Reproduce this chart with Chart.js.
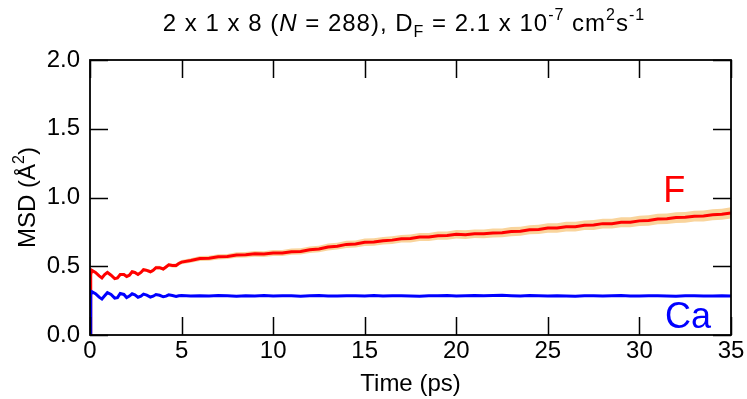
<!DOCTYPE html>
<html>
<head>
<meta charset="utf-8">
<script src="https://cdn.jsdelivr.net/npm/chart.js@4"></script>
<style>
  body { margin: 0; background: #fff; }
  #wrap { width: 747px; height: 399px; position: relative; }
</style>
</head>
<body>
<div id="wrap"><canvas id="msd-chart"></canvas></div>
<script>
/*
  MSD vs time, 2 x 1 x 8 cell (N = 288)
  F ions (red, with error band) and Ca ions (blue)
*/

const FONT = "'Liberation Sans', Arial, Helvetica, sans-serif";

// sample times (ps)
const times = [
  0, 0.04, 0.1, 0.3, 0.5, 0.65, 0.8, 0.95, 1.15, 1.35, 1.5, 1.65, 1.85, 2.0, 2.15, 2.3,
  2.45, 2.62, 2.78, 2.92, 3.1, 3.3, 3.45, 3.6, 3.8, 4.0, 4.15, 4.3, 4.5, 4.7, 4.85, 5.0,
  5.5, 6.0, 6.5, 7.0, 7.5, 8.0, 8.5, 9.0, 9.5, 10.0, 10.5, 11.0, 11.5, 12.0, 12.5, 13.0,
  13.5, 14.0, 14.5, 15.0, 15.5, 16.0, 16.5, 17.0, 17.5, 18.0, 18.5, 19.0, 19.5, 20.0,
  20.5, 21.0, 21.5, 22.0, 22.5, 23.0, 23.5, 24.0, 24.5, 25.0, 25.5, 26.0, 26.5, 27.0,
  27.5, 28.0, 28.5, 29.0, 29.5, 30.0, 30.5, 31.0, 31.5, 32.0, 32.5, 33.0, 33.5, 34.0,
  34.5, 35.0
];

// MSD of F (Å^2)
const msdF = [
  0, 0.44, 0.47, 0.455, 0.43, 0.415, 0.44, 0.455, 0.435, 0.41, 0.415, 0.44, 0.44, 0.425, 0.435, 0.46,
  0.455, 0.44, 0.455, 0.475, 0.47, 0.46, 0.47, 0.49, 0.49, 0.48, 0.495, 0.51, 0.505, 0.505, 0.52, 0.53,
  0.542, 0.556, 0.558, 0.569, 0.571, 0.582, 0.584, 0.590, 0.589, 0.597, 0.596, 0.606, 0.608, 0.620, 0.626, 0.640,
  0.646, 0.659, 0.662, 0.674, 0.676, 0.686, 0.690, 0.700, 0.702, 0.712, 0.712, 0.722, 0.723, 0.732,
  0.730, 0.737, 0.736, 0.742, 0.743, 0.752, 0.755, 0.766, 0.768, 0.778, 0.778, 0.788, 0.788, 0.798,
  0.800, 0.810, 0.810, 0.820, 0.820, 0.830, 0.833, 0.844, 0.846, 0.854, 0.856, 0.864, 0.866, 0.874,
  0.878, 0.888
];

// standard error of F MSD (Å^2)
const errF = [
  0, 0.008, 0.008, 0.008, 0.008, 0.008, 0.009, 0.009, 0.009, 0.009, 0.010, 0.010, 0.010, 0.010, 0.011, 0.011,
  0.011, 0.011, 0.012, 0.012, 0.012, 0.012, 0.013, 0.013, 0.013, 0.013, 0.014, 0.014, 0.014, 0.015, 0.015, 0.016,
  0.017, 0.018, 0.018, 0.019, 0.019, 0.020, 0.020, 0.021, 0.021, 0.022, 0.022, 0.023, 0.023, 0.024, 0.024, 0.025,
  0.025, 0.026, 0.026, 0.027, 0.027, 0.027, 0.028, 0.028, 0.029, 0.029, 0.029, 0.030, 0.030, 0.031,
  0.031, 0.031, 0.032, 0.032, 0.032, 0.033, 0.033, 0.033, 0.034, 0.034, 0.034, 0.035, 0.035, 0.035,
  0.036, 0.036, 0.036, 0.037, 0.037, 0.037, 0.038, 0.038, 0.038, 0.039, 0.039, 0.039, 0.040, 0.040,
  0.040, 0.041
];

// MSD of Ca (Å^2)
const msdCa = [
  0, 0.29, 0.315, 0.30, 0.275, 0.262, 0.285, 0.308, 0.295, 0.268, 0.272, 0.302, 0.295, 0.272, 0.283, 0.300,
  0.292, 0.275, 0.283, 0.297, 0.290, 0.276, 0.282, 0.294, 0.289, 0.278, 0.283, 0.292, 0.287, 0.280, 0.285, 0.288,
  0.284, 0.286, 0.283, 0.287, 0.285, 0.282, 0.286, 0.284, 0.287, 0.283, 0.285, 0.286, 0.282, 0.285, 0.287, 0.284,
  0.283, 0.286, 0.285, 0.284, 0.287, 0.283, 0.285, 0.286, 0.284, 0.282, 0.286, 0.285, 0.287, 0.284,
  0.286, 0.288, 0.285, 0.287, 0.289, 0.286, 0.284, 0.287, 0.285, 0.283, 0.286, 0.284, 0.282, 0.285,
  0.286, 0.283, 0.285, 0.287, 0.284, 0.283, 0.285, 0.286, 0.284, 0.282, 0.285, 0.286, 0.284, 0.283,
  0.285, 0.284
];

const xTicks = [0, 5, 10, 15, 20, 25, 30, 35];
const yTicks = [0.0, 0.5, 1.0, 1.5, 2.0];

const toPoints = (ys) => times.map((t, i) => ({ x: t, y: ys[i] }));

function drawRich(ctx, parts, cx, baseY) {
  const fontOf = (p) => (p.it ? 'italic ' : '') + p.s + 'px ' + FONT;
  let total = 0;
  parts.forEach((p) => {
    ctx.font = fontOf(p);
    p.w = ctx.measureText(p.t).width;
    total += p.w;
  });
  let x = cx - total / 2;
  ctx.fillStyle = '#000';
  ctx.textAlign = 'left';
  ctx.textBaseline = 'alphabetic';
  parts.forEach((p) => {
    ctx.font = fontOf(p);
    ctx.fillText(p.t, x, baseY + p.dy);
    x += p.w;
  });
}

// draws frame, inward ticks on all sides, title, y-axis label and series labels
const decorPlugin = {
  id: 'decor',
  afterDatasetsDraw(chart) {
    const { ctx, chartArea: a, scales } = chart;
    const xs = scales.x;
    const ys = scales.y;
    const tick = 18;
    ctx.save();
    ctx.strokeStyle = '#000';
    ctx.lineWidth = 1.8;
    ctx.strokeRect(a.left, a.top, a.right - a.left, a.bottom - a.top);
    ctx.lineWidth = 1.5;
    ctx.beginPath();
    xTicks.forEach((v) => {
      const px = Math.round(xs.getPixelForValue(v)) + 0.5;
      ctx.moveTo(px, a.bottom);
      ctx.lineTo(px, a.bottom - tick);
      ctx.moveTo(px, a.top);
      ctx.lineTo(px, a.top + tick);
    });
    yTicks.forEach((v) => {
      const py = Math.round(ys.getPixelForValue(v)) + 0.5;
      ctx.moveTo(a.left, py);
      ctx.lineTo(a.left + tick, py);
      ctx.moveTo(a.right, py);
      ctx.lineTo(a.right - tick, py);
    });
    ctx.stroke();

    // series labels
    ctx.font = '36px ' + FONT;
    ctx.textAlign = 'left';
    ctx.textBaseline = 'alphabetic';
    ctx.fillStyle = 'rgb(255,0,0)';
    ctx.fillText('F', xs.getPixelForValue(31.3), ys.getPixelForValue(0.97));
    ctx.fillStyle = 'rgb(0,0,255)';
    ctx.fillText('Ca', xs.getPixelForValue(31.4), ys.getPixelForValue(0.05));

    // title with italic, sub- and superscripts
    const big = 24;
    const small = 16;
    ctx.letterSpacing = '1px';
    drawRich(ctx, [
      { t: '2 x 1 x 8 (', s: big, dy: 0 },
      { t: 'N', s: big, dy: 0, it: true },
      { t: ' = 288), D', s: big, dy: 0 },
      { t: 'F', s: small, dy: 6 },
      { t: ' = 2.1 x 10', s: big, dy: 0 },
      { t: '-7', s: small, dy: -11 },
      { t: ' cm', s: big, dy: 0 },
      { t: '2', s: small, dy: -11 },
      { t: 's', s: big, dy: 0 },
      { t: '-1', s: small, dy: -11 },
    ], 404, 31);
    ctx.letterSpacing = '0px';

    // y axis title, rotated
    ctx.save();
    ctx.translate(35, (a.top + a.bottom) / 2);
    ctx.rotate(-Math.PI / 2);
    drawRich(ctx, [
      { t: 'MSD (Å', s: big, dy: 0 },
      { t: '2', s: small, dy: -11 },
      { t: ')', s: big, dy: 0 },
    ], 0, 0);
    ctx.restore();
    ctx.restore();
  },
};

const config = {
  type: 'line',
  data: {
    datasets: [
      {
        label: 'F upper',
        data: toPoints(msdF.map((v, i) => v + errF[i])),
        order: 5,
        borderWidth: 0,
        borderColor: 'rgba(0,0,0,0)',
        pointRadius: 0,
        backgroundColor: 'rgb(249, 212, 156)',
        fill: '+1',
      },
      {
        label: 'F lower',
        data: toPoints(msdF.map((v, i) => v - errF[i])),
        order: 4,
        borderWidth: 0,
        borderColor: 'rgba(0,0,0,0)',
        pointRadius: 0,
        fill: false,
      },
      {
        label: 'F',
        data: toPoints(msdF),
        order: 1,
        borderColor: 'rgb(255, 0, 0)',
        borderWidth: 3,
        pointRadius: 0,
        fill: false,
      },
      {
        label: 'Ca',
        data: toPoints(msdCa),
        order: 0,
        borderColor: 'rgb(0, 0, 255)',
        borderWidth: 3,
        pointRadius: 0,
        fill: false,
      },
    ],
  },
  options: {
    responsive: true,
    maintainAspectRatio: false,
    animation: false,
    layout: {
      padding: { top: 60, right: 16, left: 0, bottom: 0 },
    },
    plugins: {
      legend: { display: false },
      title: { display: false },
      tooltip: { enabled: false },
    },
    scales: {
      x: {
        type: 'linear',
        min: 0,
        max: 35,
        afterFit: (s) => { s.height = 64; },
        afterBuildTicks: (s) => { s.ticks = xTicks.map((v) => ({ value: v })); },
        grid: { display: false, drawTicks: false },
        border: { display: false },
        ticks: {
          padding: 2,
          color: '#000',
          font: { family: FONT, size: 24 },
          maxRotation: 0,
          callback: (v) => String(v),
        },
        title: {
          display: true,
          text: 'Time (ps)',
          color: '#000',
          font: { family: FONT, size: 24 },
          padding: { top: 0, bottom: 0 },
        },
      },
      y: {
        min: 0,
        max: 2,
        afterFit: (s) => { s.width = 90; },
        afterBuildTicks: (s) => { s.ticks = yTicks.map((v) => ({ value: v })); },
        grid: { display: false, drawTicks: false },
        border: { display: false },
        ticks: {
          padding: 10,
          color: '#000',
          font: { family: FONT, size: 24 },
          callback: (v) => v.toFixed(1),
        },
      },
    },
  },
  plugins: [decorPlugin],
};

new Chart(document.getElementById('msd-chart'), config);
</script>
</body>
</html>
